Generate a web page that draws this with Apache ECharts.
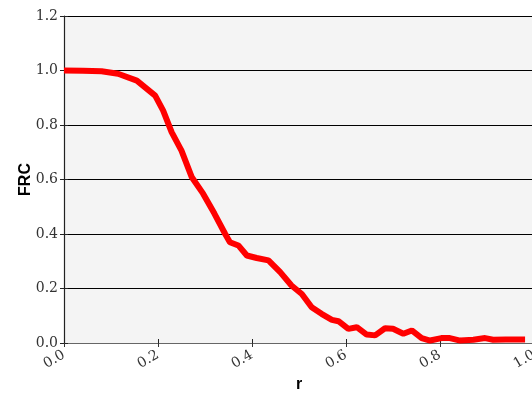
<!DOCTYPE html>
<html>
<head>
<meta charset="utf-8">
<script src="https://cdn.jsdelivr.net/npm/echarts@6/dist/echarts.min.js"></script>
<style>
  html, body { margin: 0; padding: 0; background: #fff; }
  #main { width: 532px; height: 394px; }
</style>
</head>
<body>
<div id="main"></div>
<script>
// FRC curve
var r = [0.0, 0.04, 0.08, 0.115, 0.155, 0.194, 0.211, 0.229, 0.25, 0.272, 0.296,
    0.32, 0.343, 0.353, 0.371, 0.389, 0.41, 0.435, 0.46, 0.484, 0.506, 0.527,
    0.548, 0.57, 0.584, 0.605, 0.623, 0.644, 0.662, 0.683, 0.70, 0.722, 0.74,
    0.761, 0.779, 0.803, 0.821, 0.843, 0.871, 0.896, 0.913, 0.94, 0.96, 0.981];
var frc = [1.0, 0.999, 0.997, 0.988, 0.963, 0.908, 0.853, 0.774, 0.706, 0.608, 0.548,
    0.475, 0.40, 0.37, 0.358, 0.321, 0.312, 0.303, 0.26, 0.211, 0.18, 0.131,
    0.107, 0.085, 0.08, 0.052, 0.058, 0.031, 0.028, 0.054, 0.052, 0.034, 0.046,
    0.018, 0.009, 0.018, 0.018, 0.009, 0.012, 0.018, 0.012, 0.013, 0.013, 0.013];
var yTicks = [0.0, 0.2, 0.4, 0.6, 0.8, 1.0, 1.2];
var xTicks = [0.0, 0.2, 0.4, 0.6, 0.8, 1.0];

var points = [];
for (var i = 0; i < r.length; i++) {
    points.push([r[i], frc[i]]);
}

var myChart = echarts.init(document.getElementById('main'));
var serif = 'DejaVu Serif';
var option = {
    animation: false,
    grid: {
        left: 64, right: -2, top: 16, bottom: 51,
        outerBoundsMode: 'none',
        containLabel: false,
        show: true,
        backgroundColor: '#f4f4f4',
        borderWidth: 0
    },
    xAxis: [{
        type: 'value',
        min: 0, max: 1, interval: 0.2,
        name: 'r',
        nameLocation: 'middle',
        nameGap: 34,
        nameMoveOverlap: false,
        nameTextStyle: { fontFamily: 'Liberation Sans', fontWeight: 'bold', fontSize: 16, color: '#000' },
        axisLine: { show: true, lineStyle: { color: '#222', width: 1.2 } },
        axisTick: { show: true, inside: true, length: 4, lineStyle: { color: '#222' } },
        axisLabel: {
            rotate: 30, margin: 11, fontFamily: serif, fontSize: 14, color: '#333',
            formatter: function (v) { return v.toFixed(1); }
        },
        splitLine: { show: false }
    }, {
        type: 'value',
        position: 'top',
        min: 0, max: 1, interval: 0.2,
        axisLine: { show: true, lineStyle: { color: '#666', width: 1.2 } },
        axisTick: { show: true, inside: true, length: 4, lineStyle: { color: '#333' } },
        axisLabel: { show: false },
        splitLine: { show: false }
    }],
    yAxis: [{
        type: 'value',
        min: 0, max: 1.2, interval: 0.2,
        name: 'FRC',
        nameLocation: 'middle',
        nameGap: 30,
        nameMoveOverlap: false,
        nameTextStyle: { fontFamily: 'Liberation Sans', fontWeight: 'bold', fontSize: 16, color: '#000' },
        axisLine: { show: true, lineStyle: { color: '#222', width: 1.2 } },
        axisTick: { show: true, inside: true, length: 4, lineStyle: { color: '#222' } },
        axisLabel: {
            margin: 6, fontFamily: serif, fontSize: 14, color: '#333',
            formatter: function (v) { return v.toFixed(1); }
        },
        splitLine: { show: true, lineStyle: { color: '#000', width: 1 } }
    }, {
        type: 'value',
        position: 'right',
        min: 0, max: 1.2, interval: 0.2,
        axisLine: { show: false },
        axisTick: { show: true, inside: true, length: 4, lineStyle: { color: '#222' } },
        axisLabel: { show: false },
        splitLine: { show: false }
    }],
    series: [{
        type: 'line',
        data: points,
        showSymbol: false,
        lineStyle: { color: '#ff0000', width: 6 },
        z: 5
    }]
};
myChart.setOption(option);
</script>
</body>
</html>
